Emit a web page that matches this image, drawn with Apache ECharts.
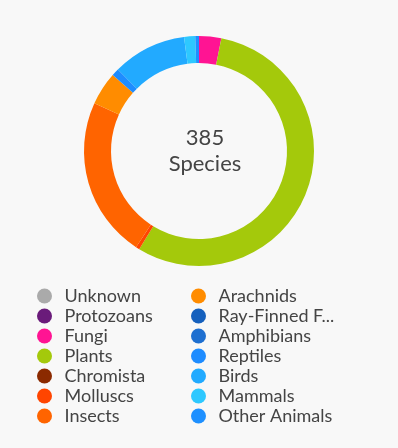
<!DOCTYPE html>
<html>
<head>
<meta charset="utf-8">
<script src="https://cdn.jsdelivr.net/npm/echarts@6/dist/echarts.min.js"></script>
<style>
  html, body { margin: 0; padding: 0; background: #f8f8f8; }
  #chart { width: 398px; height: 448px; }
</style>
</head>
<body>
<div id="chart"></div>
<script>
// 物种分类
const groups = ['Unknown', 'Protozoans', 'Fungi', 'Plants', 'Chromista', 'Molluscs', 'Insects',
    'Arachnids', 'Ray-Finned Fishes', 'Amphibians', 'Reptiles', 'Birds', 'Mammals', 'Other Animals'];
const counts = [0, 0, 12, 214, 0, 2, 87, 18, 0, 0, 4, 40, 6, 2];
const colors = ['#aaaaaa', '#6a1b7a', '#ff1493', '#a4c90b', '#8b2a00', '#ff4500', '#ff6400',
    '#ff8c00', '#1560bd', '#1e6fd0', '#1e8cff', '#22aaff', '#2ec8ff', '#1e90ff'];
const totalLabel = '385';

var chart = echarts.init(document.getElementById('chart'));

var legendBase = {
    orient: 'vertical',
    top: 281,
    icon: 'circle',
    itemWidth: 30,
    itemHeight: 15,
    itemGap: 0,
    selectedMode: false,
    textStyle: { fontFamily: 'Lato', fontSize: 18, lineHeight: 20, color: '#444' },
    formatter: function (name) {
        return name.length > 14 ? name.slice(0, 12) + '...' : name;
    }
};

var option = {
    backgroundColor: '#f8f8f8',
    color: colors,
    title: {
        text: totalLabel + '\nSpecies',
        left: 200,
        top: 120,
        textAlign: 'center',
        textStyle: { fontFamily: 'Lato', fontSize: 22, fontWeight: 'normal', color: '#444', lineHeight: 26 }
    },
    legend: [
        Object.assign({}, legendBase, { left: 32, data: groups.slice(0, 7) }),
        Object.assign({}, legendBase, { left: 186, data: groups.slice(7) })
    ],
    series: [{
        type: 'pie',
        center: [199, 151],
        radius: [88, 115],
        startAngle: 90,
        clockwise: true,
        padAngle: 0,
        itemStyle: { borderWidth: 0 },
        label: { show: false },
        labelLine: { show: false },
        emphasis: { disabled: true },
        data: groups.map((g, i) => ({ name: g, value: counts[i] }))
    }]
};
chart.setOption(option);
</script>
</body>
</html>
